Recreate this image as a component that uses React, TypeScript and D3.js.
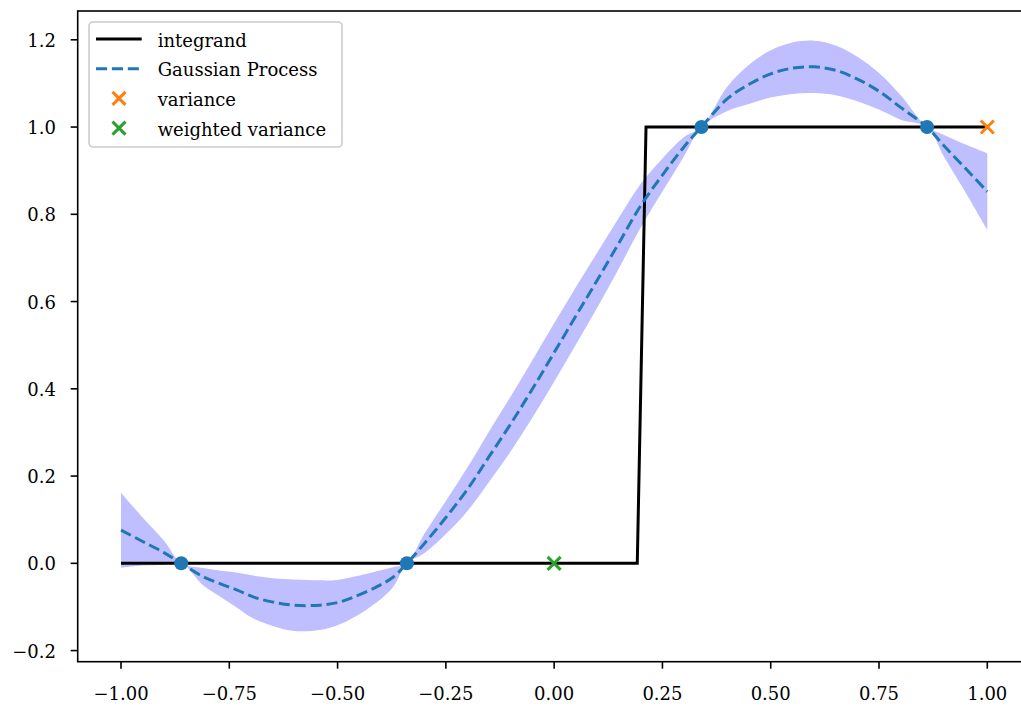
import React from "react";
import * as d3 from "d3";

// ---- data ----
const integrandX = [-1.0, 0.1919, 0.2121, 1.0];
const integrandY = [0, 0, 1, 1];

const gpX = [
  -1.0, -0.95, -0.9, -0.861, -0.81, -0.77, -0.733, -0.695, -0.648, -0.6, -0.541, -0.5, -0.464, -0.41, -0.372, -0.34,
  -0.3, -0.25, -0.2, -0.15, -0.1, -0.05, 0.0, 0.05, 0.1, 0.15, 0.2, 0.25, 0.3, 0.34,
  0.4, 0.45, 0.5, 0.55, 0.6, 0.65, 0.7, 0.75, 0.8, 0.861, 0.9, 0.95, 1.0,
];
const gpMean = [
  0.076, 0.05, 0.024, 0.0, -0.031, -0.047, -0.061, -0.077, -0.089, -0.096, -0.096, -0.09, -0.078, -0.054, -0.032, 0.0,
  0.045, 0.105, 0.17, 0.245, 0.32, 0.4, 0.483, 0.567, 0.65, 0.735, 0.82, 0.89, 0.955, 1.0,
  1.065, 1.098, 1.122, 1.135, 1.138, 1.13, 1.11, 1.082, 1.045, 1.0, 0.957, 0.905, 0.852,
];
const gpBand = [
  0.086, 0.055, 0.027, 0.0, 0.02, 0.03, 0.04, 0.049, 0.055, 0.059, 0.057, 0.052, 0.047, 0.036, 0.023, 0.0,
  0.022, 0.038, 0.05, 0.058, 0.063, 0.066, 0.067, 0.066, 0.063, 0.058, 0.05, 0.038, 0.022, 0.0,
  0.028, 0.045, 0.054, 0.059, 0.06, 0.057, 0.051, 0.042, 0.028, 0.0, 0.025, 0.055, 0.088,
];

const trainX = [-0.861, -0.34, 0.34, 0.861];
const trainY = [0, 0, 1, 1];

const varianceX = [1.0];
const varianceY = [1.0];
const weightedX = [0.0];
const weightedY = [0.0];

const xTicks = [-1.0, -0.75, -0.5, -0.25, 0.0, 0.25, 0.5, 0.75, 1.0];
const yTicks = [-0.2, 0.0, 0.2, 0.4, 0.6, 0.8, 1.0, 1.2];

const legendLabels = ["integrand", "Gaussian Process", "variance", "weighted variance"];

const FONT = "'DejaVu Serif', serif";
const FS = 18;

function fmt(v: number, digits: number) {
  const s = Math.abs(v).toFixed(digits);
  return v < -1e-9 ? "\u2212" + s : s;
}

function XMark({ cx, cy, color, r = 6.5 }: { cx: number; cy: number; color: string; r?: number }) {
  return (
    <g stroke={color} strokeWidth={3}>
      <line x1={cx - r} y1={cy - r} x2={cx + r} y2={cy + r} />
      <line x1={cx - r} y1={cy + r} x2={cx + r} y2={cy - r} />
    </g>
  );
}

export default function App() {
  const W = 1021;
  const H = 706;
  const left = 77.7;
  const right = 1030.6;
  const top = 11;
  const bottom = 661.7;

  const x = d3.scaleLinear().domain([-1.1, 1.1]).range([left, right]);
  const y = d3.scaleLinear().domain([-0.2255, 1.266]).range([bottom, top]);

  const pts = gpX.map((xv, i) => ({ x: xv, m: gpMean[i], b: gpBand[i] }));

  const area = d3
    .area<{ x: number; m: number; b: number }>()
    .x((d) => x(d.x))
    .y0((d) => y(d.m - d.b))
    .y1((d) => y(d.m + d.b))
    .curve(d3.curveCatmullRom.alpha(0.5));

  const meanLine = d3
    .line<{ x: number; m: number; b: number }>()
    .x((d) => x(d.x))
    .y((d) => y(d.m))
    .curve(d3.curveCatmullRom.alpha(0.5));

  const integ = d3
    .line<number>()
    .x((d) => x(d))
    .y((_, i) => y(integrandY[i]));

  const legX = 89;
  const legY = 22;
  const legW = 253;
  const legH = 125;
  const rowY = [39, 68.7, 98.4, 128.1];

  return (
    <svg
      width={W}
      height={H}
      style={{ position: "absolute", left: 0, top: 0, background: "#fff" }}
      fontFamily={FONT}
    >
      <defs>
        <clipPath id="axclip">
          <rect x={left} y={top} width={right - left} height={bottom - top} />
        </clipPath>
      </defs>
      <g clipPath="url(#axclip)">
        <path d={area(pts) || ""} fill="blue" fillOpacity={0.25} stroke="none" />
        <path d={integ(integrandX) || ""} fill="none" stroke="#000" strokeWidth={3} />
        <path
          d={meanLine(pts) || ""}
          fill="none"
          stroke="#1f77b4"
          strokeWidth={3}
          strokeDasharray="11.1,4.8"
        />
        {trainX.map((tx, i) => (
          <circle key={i} cx={x(tx)} cy={y(trainY[i])} r={7} fill="#1f77b4" />
        ))}
        {varianceX.map((vx, i) => (
          <XMark key={"v" + i} cx={x(vx)} cy={y(varianceY[i])} color="#ff7f0e" />
        ))}
        {weightedX.map((vx, i) => (
          <XMark key={"w" + i} cx={x(vx)} cy={y(weightedY[i])} color="#2ca02c" />
        ))}
      </g>

      {/* spines */}
      <rect x={left} y={top} width={right - left} height={bottom - top} fill="none" stroke="#000" strokeWidth={1.6} />

      {/* x ticks */}
      {xTicks.map((t, i) => (
        <g key={"xt" + i}>
          <line x1={x(t)} x2={x(t)} y1={bottom} y2={bottom + 7} stroke="#000" strokeWidth={1.6} />
          <text x={x(t)} y={700} textAnchor="middle" fontSize={FS} fill="#000">
            {fmt(t, 2)}
          </text>
        </g>
      ))}

      {/* y ticks */}
      {yTicks.map((t, i) => (
        <g key={"yt" + i}>
          <line x1={left - 7} x2={left} y1={y(t)} y2={y(t)} stroke="#000" strokeWidth={1.6} />
          <text x={56} y={y(t) + 7} textAnchor="end" fontSize={FS} fill="#000">
            {fmt(t, 1)}
          </text>
        </g>
      ))}

      {/* legend */}
      <rect
        x={legX}
        y={legY}
        width={legW}
        height={legH}
        rx={4}
        fill="#fff"
        fillOpacity={0.8}
        stroke="#cccccc"
        strokeWidth={1.6}
      />
      <line x1={96} x2={141.7} y1={rowY[0]} y2={rowY[0]} stroke="#000" strokeWidth={3} />
      <line
        x1={96}
        x2={141.7}
        y1={rowY[1]}
        y2={rowY[1]}
        stroke="#1f77b4"
        strokeWidth={3}
        strokeDasharray="11.1,4.8"
      />
      <XMark cx={119} cy={rowY[2]} color="#ff7f0e" />
      <XMark cx={119} cy={rowY[3]} color="#2ca02c" />
      {legendLabels.map((l, i) => (
        <text key={"lg" + i} x={157.7} y={rowY[i] + 7.5} fontSize={FS} fill="#000">
          {l}
        </text>
      ))}
    </svg>
  );
}
